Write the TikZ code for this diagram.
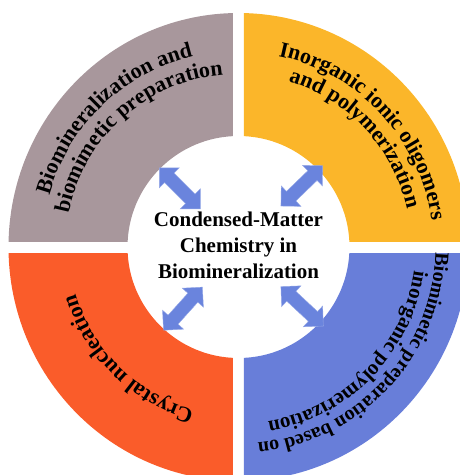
\documentclass[tikz,border=0pt]{standalone}
\usepackage{fontspec}
\setmainfont{Liberation Serif}
\usetikzlibrary{decorations.text,shapes.arrows}
\definecolor{ringpink}{RGB}{168,151,156}
\definecolor{ringyellow}{RGB}{251,182,42}
\definecolor{ringorange}{RGB}{250,92,42}
\definecolor{ringblue}{RGB}{104,126,217}
\definecolor{arrowblue}{RGB}{106,132,221}
\newcommand{\ringfont}[1][22]{\fontsize{#1}{#1}\selectfont\bfseries}

\begin{document}
\begin{tikzpicture}[x=1pt,y=1pt,
  ringtext/.style={decorate,decoration={text along path,text align=center,text color=black}},
  swaparrow/.style={double arrow,draw=arrowblue!70!white,fill=arrowblue,minimum height=58pt,
    inner xsep=0pt,inner ysep=6.5pt,double arrow head extend=7.5pt}]
\useasboundingbox (-238.5,-228) rectangle (221.5,247);
% four quarter rings
\foreach \col/\xa/\ya/\xb/\yb in {ringpink/-240/6/-5.5/250,ringyellow/5.5/6/240/250,
  ringorange/-240/-250/-5.5/-6,ringblue/5.5/-250/240/-6}
{
\begin{scope}
\clip (\xa,\ya) rectangle (\xb,\yb);
\fill[\col,even odd rule] (0,0) ellipse[x radius=230,y radius=234] (0,0) circle (111);
\end{scope}
}
% curved labels
\path[ringtext,decoration={text={|\ringfont|Biomineralization and}}]
  (194:196) arc[start angle=194,end angle=74,radius=196];
\path[ringtext,decoration={text={|\ringfont|biomimetic preparation}}]
  (192:173) arc[start angle=192,end angle=72,radius=173];
\path[ringtext,decoration={text={|\ringfont|Inorganic ionic oligomers}}]
  (103:195) arc[start angle=103,end angle=-17,radius=195];
\path[ringtext,decoration={text={|\ringfont|and polymerization}}]
  (103:173) arc[start angle=103,end angle=-17,radius=173];
\path[ringtext,decoration={text={|\ringfont[20]|Biomimetic preparation based on}}]
  (17:197) arc[start angle=17,end angle=-103,radius=197];
\path[ringtext,decoration={text={|\ringfont[21]|inorganic polymerization}}]
  (16:177) arc[start angle=16,end angle=-104,radius=177];
\path[ringtext,decoration={text={|\ringfont|Crystal nucleation}}]
  (-74.5:169) arc[start angle=-74.5,end angle=-194.5,radius=169];
% centre
\node[align=center,font=\fontsize{21}{26}\selectfont\bfseries] (core) at (0,2)
  {Condensed-Matter\\Chemistry in\\Biomineralization};
\node[swaparrow,rotate=135] (arrowpink) at (135:83) {};
\node[swaparrow,rotate=44] (arrowyellow) at (44:88) {};
\node[swaparrow,rotate=-132] (arroworange) at (-132:83) {};
\node[swaparrow,rotate=-43] (arrowblue) at (-43:87) {};
\end{tikzpicture}
\end{document}
